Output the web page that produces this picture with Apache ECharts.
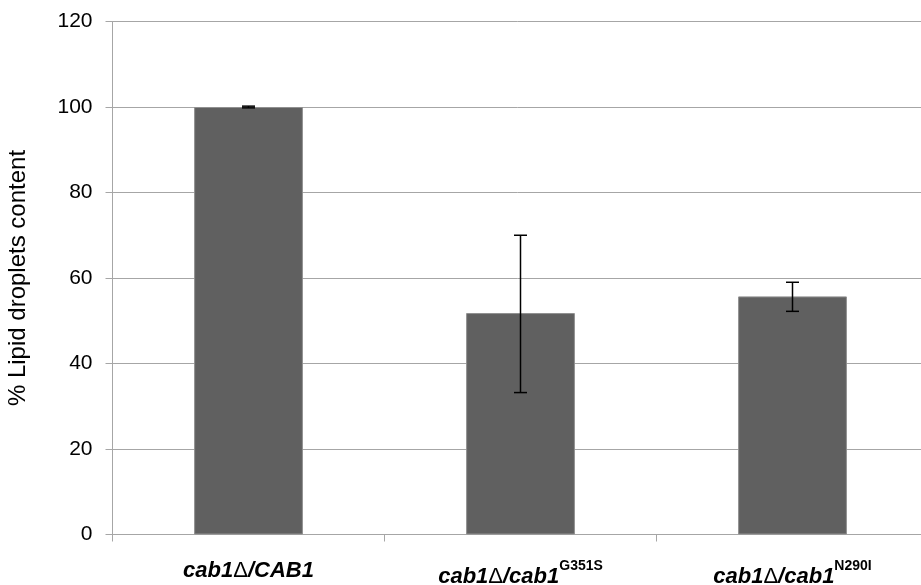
<!DOCTYPE html>
<html>
<head>
<meta charset="utf-8">
<script src="https://cdn.jsdelivr.net/npm/echarts@6/dist/echarts.min.js"></script>
<style>
html,body{margin:0;padding:0;background:#fff;}
#chart{width:921px;height:585px;}
</style>
</head>
<body>
<div id="chart"></div>
<script>
// Data
const categories = ['cab1Δ/CAB1', 'cab1Δ/cab1', 'cab1Δ/cab1'];
const superscripts = ['', 'G351S', 'N290I'];
const values = [100, 51.8, 55.7];
const errLow = [99.8, 33.2, 52.2];
const errHigh = [100.2, 70.0, 59.0];
const yTicks = [0, 20, 40, 60, 80, 100, 120];
const yTitle = '% Lipid droplets content';

const chart = echarts.init(document.getElementById('chart'));
const font = '"Liberation Sans", Arial, sans-serif';

function labelFmt(v, i) {
  const parts = v.split('Δ');
  const hasSup = !!superscripts[i];
  const it = hasSup ? 'a' : 'b';
  const dl = hasSup ? 'd' : 'e';
  let s = '{' + it + '|' + parts[0] + '}{' + dl + '|Δ}{' + it + '|' + parts[1] + '}';
  if (hasSup) s += '{s|' + superscripts[i] + '}';
  return s;
}

chart.setOption({
  animation: false,
  backgroundColor: '#ffffff',
  grid: { left: 112.5, right: -7.5, top: 21.5, bottom: 50.5, containLabel: false, outerBoundsMode: 'none' },
  xAxis: {
    type: 'category',
    data: categories,
    axisLine: { show: true, lineStyle: { color: '#a6a6a6', width: 1 } },
    axisTick: { show: true, length: 7, lineStyle: { color: '#a6a6a6' } },
    axisLabel: {
      margin: 25,
      interval: 0,
      formatter: labelFmt,
      rich: {
        a: { fontFamily: font, fontSize: 22, fontWeight: 'bold', fontStyle: 'italic', color: '#000', lineHeight: 28, verticalAlign: 'bottom' },
        d: { fontFamily: font, fontSize: 22, fontWeight: 'normal', color: '#000', lineHeight: 28, verticalAlign: 'bottom' },
        b: { fontFamily: font, fontSize: 22, fontWeight: 'bold', fontStyle: 'italic', color: '#000', lineHeight: 22, verticalAlign: 'bottom' },
        e: { fontFamily: font, fontSize: 22, fontWeight: 'normal', color: '#000', lineHeight: 22, verticalAlign: 'bottom' },
        s: { fontFamily: font, fontSize: 14, fontWeight: 'bold', color: '#000', lineHeight: 28, verticalAlign: 'top' }
      }
    },
    splitLine: { show: false }
  },
  yAxis: {
    type: 'value',
    min: 0, max: 120, interval: 20,
    name: yTitle,
    nameLocation: 'middle',
    nameGap: 82,
    nameRotate: 90,
    nameTextStyle: { fontFamily: font, fontSize: 24, color: '#000' },
    axisLine: { show: true, lineStyle: { color: '#a6a6a6', width: 1 } },
    axisTick: { show: true, length: 7, lineStyle: { color: '#a6a6a6' } },
    axisLabel: {
      margin: 20,
      fontFamily: font, fontSize: 21, color: '#000',
      formatter: function (v) { return yTicks.indexOf(v) >= 0 ? String(v) : ''; }
    },
    splitLine: { show: true, lineStyle: { color: '#a6a6a6', width: 1 } }
  },
  series: [
    {
      type: 'bar',
      data: values,
      barWidth: '40%',
      itemStyle: { color: '#606060', borderColor: '#909090', borderWidth: 1 },
      z: 2
    },
    {
      type: 'custom',
      z: 5,
      data: values.map(function (v, i) { return [i, errLow[i], errHigh[i]]; }),
      renderItem: function (params, api) {
        const x = api.value(0);
        const lo = api.coord([x, api.value(1)]);
        const hi = api.coord([x, api.value(2)]);
        const hw = 6.5;
        const st = { stroke: '#000', lineWidth: 1.5 };
        return {
          type: 'group',
          children: [
            { type: 'line', shape: { x1: lo[0], y1: lo[1], x2: hi[0], y2: hi[1] }, style: st },
            { type: 'line', shape: { x1: lo[0] - hw, y1: lo[1], x2: lo[0] + hw, y2: lo[1] }, style: st },
            { type: 'line', shape: { x1: hi[0] - hw, y1: hi[1], x2: hi[0] + hw, y2: hi[1] }, style: st }
          ]
        };
      }
    }
  ]
});
</script>
</body>
</html>
